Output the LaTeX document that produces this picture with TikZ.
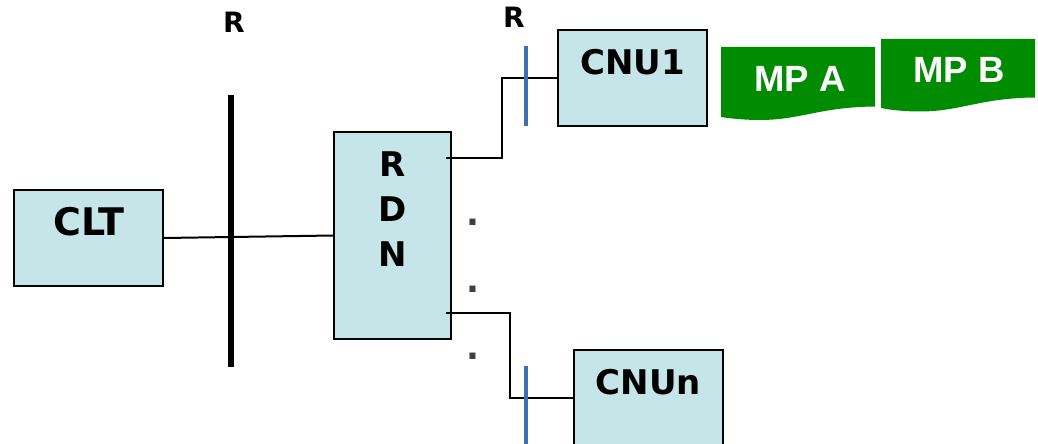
\documentclass[tikz,border=0pt]{standalone}
\usepackage{fontspec}
\setmainfont{DejaVu Sans}
\newfontfamily\mpfont{Liberation Sans}
\usepackage{tikz}
\usetikzlibrary{positioning,calc}
\definecolor{boxfill}{HTML}{C5E5E8}
\definecolor{mpgreen}{HTML}{008C00}
\definecolor{barblue}{HTML}{3F6FAD}
\begin{document}
\begin{tikzpicture}[
    x=1pt, y=-1pt,
    font=\bfseries,
    unit/.style={draw=black, fill=boxfill, line width=1.8pt, minimum width=149pt, minimum height=96pt, inner sep=0pt},
    unitname/.style={font=\fontsize{34}{34}\selectfont\bfseries, inner sep=0pt},
    mark r/.style={font=\fontsize{28}{28}\selectfont\bfseries, inner sep=0pt},
    wire/.style={line width=2pt, line join=miter},
    rbar/.style={line width=4pt, draw=barblue},
    dotmark/.style={font=\fontsize{34}{34}\selectfont\bfseries, text=black!75, inner sep=0pt},
    mpname/.style={font=\mpfont\fontsize{36.5}{37}\selectfont\bfseries, text=white, inner sep=0pt}
]
\useasboundingbox (0,0) rectangle (1038,444);

\node[unit] (clt) at (88.5,238) {};
\node[unit, minimum width=117pt, minimum height=207pt] (rdn) at (392.5,235.5) {};
\node[unit] (cnu1) at (632.5,78) {};
\node[unit] (cnun) at (648.5,398) {};

\node[unitname, font=\fontsize{38}{38}\selectfont\bfseries] (cltname) at (89,222) {CLT};
\node[unitname] (rname) at (393,164) {R};
\node[unitname, below=20pt of rname] (dname) {D};
\node[unitname, below=20pt of dname] (nname) {N};
\node[unitname] (cnu1name) at (632.5,62) {CNU1};
\node[unitname] (cnunname) at (648.5,382) {CNUn};

\node[mark r] (rleft) at (234,22) {R};
\node[mark r] (rright) at (514,17) {R};

% bars
\coordinate (bartop) at (231,95);
\coordinate (barbot) at (231,367);
\coordinate (onetop) at (526,46);
\coordinate (onebot) at (526,126);
\coordinate (ntop) at (526,366);
\coordinate (nbot) at (526,444);
\draw[line width=5.5pt] (bartop) -- (barbot);

% wires out of the RDN box start just inside its edge
\coordinate (outone) at (446,158);
\coordinate (outn) at (446,313);
\draw[wire] (clt.east) -- (rdn.west);
\draw[wire] (outone) -| (502,78) -- (cnu1.west);
\draw[wire] (outn) -| (510,398) -- (cnun.west);
\draw[rbar] (onetop) -- (onebot);
\draw[rbar] (ntop) -- (nbot);

\foreach \n/\y in {a/221, b/288, c/355}
  \node[dotmark, anchor=base] (dot\n) at (473,\y+4) {.};

% document shapes
\fill[mpgreen] (721,47) -- (875,47) -- (875,106.5) .. controls (820,107) and (800,120) .. (760,120) .. controls (745,120) and (730,118.5) .. (721,117) -- cycle;
\fill[mpgreen] (881,39) -- (1035,39) -- (1035,97.5) .. controls (980,98) and (960,111.5) .. (920,111.5) .. controls (905,111.5) and (890,110) .. (881,108) -- cycle;
\node[mpname] (mpa) at (800,79) {MP A};
\node[mpname] (mpb) at (959,70) {MP B};
\end{tikzpicture}
\end{document}
